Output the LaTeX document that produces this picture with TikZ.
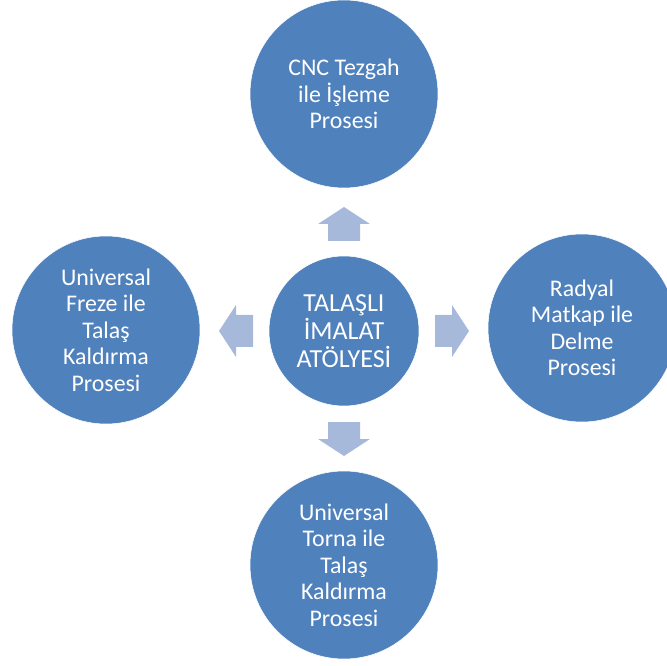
\documentclass[tikz,border=0pt]{standalone}
\usepackage{fontspec}
\setmainfont{Carlito}
\usepackage{tikz}
\usetikzlibrary{shapes}
\usetikzlibrary{positioning}
\definecolor{daire}{RGB}{79,129,189}
\definecolor{okrenk}{RGB}{167,185,219}
\tikzstyle{surec} = [circle, fill = daire, draw = white, text = white, align = center, minimum size = 141pt, inner sep = 0pt, font = \fontsize{17.9pt}{19.9pt}\selectfont]
\tikzstyle{merkez} = [surec, minimum size = 112.5pt, font = \fontsize{19.5pt}{21.2pt}\selectfont]
\tikzstyle{blok} = [fill = okrenk, draw = none]
% block arrow with its tip at #1, turned by #2
\newcommand{\blokok}[2]{\fill [blok, shift = {#1}, rotate = #2] (0, 0) -- (-17, -26) -- (-17, -16) -- (-34, -16) -- (-34, 16) -- (-17, 16) -- (-17, 26) -- cycle;}

\begin{document}
\begin{tikzpicture}[x = .75pt, y = -.75pt]
\useasboundingbox (0, 0) rectangle (667, 666);
\clip (0, 0) rectangle (667, 666);
% center and the four processes
\node [merkez] (atolye) at (344, 331) {TALAŞLI\\İMALAT\\ATÖLYESİ};
\node [surec] (cnc) at (344, 94) {CNC Tezgah\\ile İşleme\\Prosesi};
\node [surec] (radyal) at (582, 328) {Radyal\\Matkap ile\\Delme\\Prosesi};
\node [surec] (torna) at (344, 565) {Universal\\Torna ile\\Talaş\\Kaldırma\\Prosesi};
\node [surec] (freze) at (106, 330) {Universal\\Freze ile\\Talaş\\Kaldırma\\Prosesi};
% block arrows
\blokok{(344, 207)}{90}
\blokok{(469, 331)}{0}
\blokok{(344, 456)}{270}
\blokok{(219, 331)}{180}
\end{tikzpicture}
\end{document}
